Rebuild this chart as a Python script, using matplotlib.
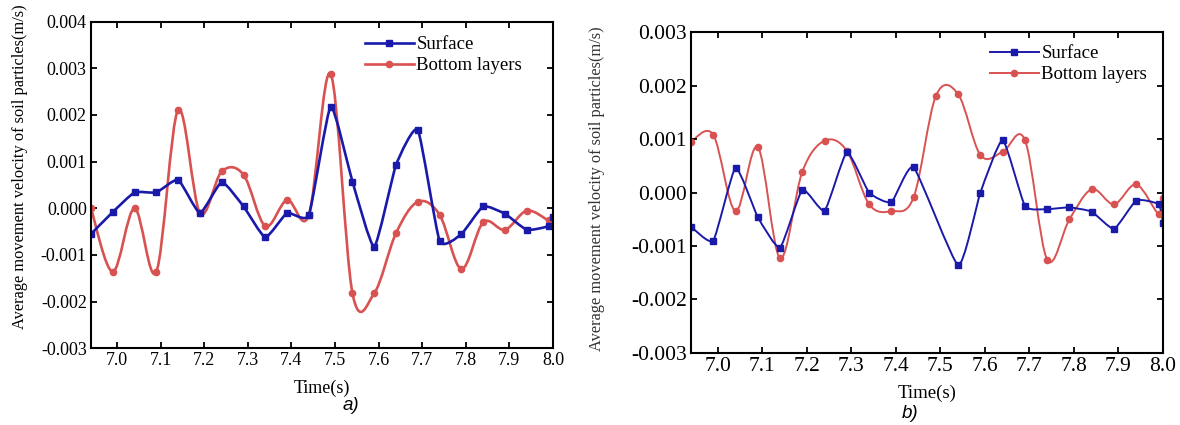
import matplotlib
matplotlib.use("Agg")
import matplotlib.pyplot as plt
import numpy as np
from matplotlib.path import Path
from matplotlib.patches import PathPatch
from matplotlib.lines import Line2D

# ======================
# global style
# ======================
plt.rcParams.update(
    {
        "font.family": "serif",
        "font.serif": ["Liberation Serif", "DejaVu Serif"],
        "axes.linewidth": 1.5,
        "xtick.direction": "in",
        "ytick.direction": "in",
        "xtick.top": True,
        "ytick.right": True,
        "xtick.major.width": 1.3,
        "ytick.major.width": 1.3,
        "xtick.major.size": 4,
        "ytick.major.size": 4,
        "legend.frameon": False,
    }
)

BLUE = "#1a1aaa"
RED = "#d95252"

# ======================
# data
# ======================
time_s = [6.94, 6.99, 7.04, 7.09, 7.14, 7.19, 7.24, 7.29, 7.34, 7.39, 7.44, 7.49,
          7.54, 7.59, 7.64, 7.69, 7.74, 7.79, 7.84, 7.89, 7.94, 7.99, 8.00]

a_surface = [-0.00055, -0.00008, 0.00034, 0.00034, 0.00061, -0.00010, 0.00056,
             0.00004, -0.00062, -0.00010, -0.00014, 0.00218, 0.00057, -0.00082,
             0.00093, 0.00168, -0.00070, -0.00055, 0.00004, -0.00012, -0.00046,
             -0.00038, -0.00018]
a_bottom = [0.00000, -0.00136, 0.00000, -0.00136, 0.00211, -0.00010, 0.00079,
            0.00072, -0.00038, 0.00018, -0.00014, 0.00288, -0.00182, -0.00182,
            -0.00053, 0.00014, -0.00014, -0.00130, -0.00030, -0.00046, -0.00005,
            -0.00026, -0.00025]

b_surface = [-0.00064, -0.00090, 0.00046, -0.00046, -0.00103, 0.00005, -0.00034,
             0.00075, 0.00000, -0.00018, 0.00047, np.nan, -0.00136, 0.00000,
             0.00098, -0.00025, -0.00031, -0.00028, -0.00036, -0.00068, -0.00015,
             -0.00022, -0.00057]
b_bottom = [0.00095, 0.00108, -0.00035, 0.00085, -0.00123, 0.00039, 0.00097,
            0.00078, -0.00022, -0.00035, -0.00009, 0.00181, 0.00184, 0.00070,
            0.00076, 0.00098, -0.00126, -0.00050, 0.00006, -0.00022, 0.00015,
            -0.00040, -0.00011]

x_ticks = [7.0, 7.1, 7.2, 7.3, 7.4, 7.5, 7.6, 7.7, 7.8, 7.9, 8.0]
series_labels = ["Surface", "Bottom layers"]


def spline_path(x, y, tension):
    """Catmull-Rom style bezier path through the data points (like Origin's spline line)"""
    x = np.asarray(x, float)
    y = np.asarray(y, float)
    ok = ~np.isnan(y)
    x, y = x[ok], y[ok]
    n = len(x)
    verts = [(x[0], y[0])]
    codes = [Path.MOVETO]
    for i in range(n - 1):
        i0 = max(i - 1, 0)
        i3 = min(i + 2, n - 1)
        c1 = (x[i] + (x[i + 1] - x[i0]) * tension / 6, y[i] + (y[i + 1] - y[i0]) * tension / 6)
        c2 = (x[i + 1] - (x[i3] - x[i]) * tension / 6, y[i + 1] - (y[i3] - y[i]) * tension / 6)
        verts += [c1, c2, (x[i + 1], y[i + 1])]
        codes += [Path.CURVE4] * 3
    return Path(verts, codes)


def draw_panel(ax, surface, bottom, ylim, yticks, lw, ms, tick_fs, leg_fs, leg_anchor):
    for y, color, marker, tension in [(bottom, RED, "o", 1.0), (surface, BLUE, "s", 0.5)]:
        ax.add_patch(PathPatch(spline_path(time_s, y, tension), facecolor="none",
                               edgecolor=color, lw=lw, capstyle="round", joinstyle="round"))
        ax.plot(time_s, y, ls="none", marker=marker, ms=ms, color=color)

    ax.set_xlim(6.94, 8.0)
    ax.set_ylim(*ylim)
    ax.set_xticks(x_ticks)
    ax.set_xticklabels([f"{t:.1f}" for t in x_ticks])
    ax.set_yticks(yticks)
    ax.set_yticklabels([f"{v:.3f}" for v in yticks])
    ax.tick_params(labelsize=tick_fs, pad=3)

    handles = [
        Line2D([], [], color=BLUE, marker="s", ms=ms, lw=lw),
        Line2D([], [], color=RED, marker="o", ms=ms, lw=lw),
    ]
    ax.legend(handles, series_labels, loc="upper left", bbox_to_anchor=leg_anchor,
              fontsize=leg_fs, borderpad=0, handlelength=2.6, handletextpad=0.15,
              labelspacing=0.2, borderaxespad=0)


fig = plt.figure(figsize=(11.8, 4.25), dpi=100)
ax_a = fig.add_axes([0.0771, 0.1805, 0.3915, 0.7685])
ax_b = fig.add_axes([0.5856, 0.1701, 0.4000, 0.7539])

draw_panel(ax_a, a_surface, a_bottom, (-0.003, 0.004),
           [-0.003, -0.002, -0.001, 0.0, 0.001, 0.002, 0.003, 0.004],
           lw=1.9, ms=4.5, tick_fs=13, leg_fs=13.5, leg_anchor=(0.593, 0.955))
draw_panel(ax_b, b_surface, b_bottom, (-0.003, 0.003),
           [-0.003, -0.002, -0.001, 0.0, 0.001, 0.002, 0.003],
           lw=1.4, ms=4.5, tick_fs=15.5, leg_fs=13.5, leg_anchor=(0.633, 0.96))

ylab = "Average movement velocity of soil particles(m/s)"
ax_a.set_ylabel(ylab, fontsize=11.8)
ax_a.yaxis.set_label_coords(-0.136, 0.557)
ax_b.set_ylabel(ylab, fontsize=11.8, color="#333333")
ax_b.yaxis.set_label_coords(-0.182, 0.511)

ax_a.set_xlabel("Time(s)", fontsize=13)
ax_a.xaxis.set_label_coords(0.5, -0.097)
ax_b.set_xlabel("Time(s)", fontsize=13.5)
ax_b.xaxis.set_label_coords(0.5, -0.101)

fig.text(351 / 1180, 1 - 406 / 425, "a)", family="Liberation Sans", style="italic",
         fontsize=13.5, ha="center", va="center")
fig.text(910 / 1180, 1 - 413 / 425, "b)", family="Liberation Sans", style="italic",
         fontsize=13.5, ha="center", va="center")

plt.savefig("out.png", dpi=100)
